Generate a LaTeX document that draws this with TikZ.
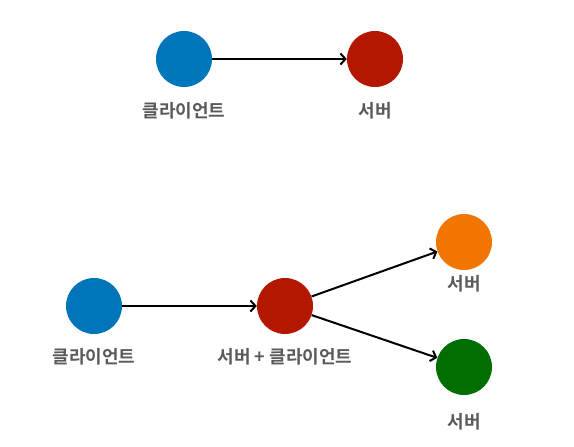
\documentclass[tikz,border=0pt]{standalone}
\usepackage{fontspec}
\usetikzlibrary{arrows.meta}
\newfontfamily\kr{Noto Sans CJK KR}[BoldFont={Noto Sans CJK KR Bold}]
\definecolor{cblue}{RGB}{0,117,186}
\definecolor{cred}{RGB}{180,23,0}
\definecolor{corange}{RGB}{240,118,0}
\definecolor{cgreen}{RGB}{0,110,0}
\definecolor{ctext}{RGB}{90,90,90}
\tikzset{
  dot/.style={circle, minimum size=56pt, inner sep=0pt},
  lbl/.style={font=\kr\bfseries\fontsize{18}{20}\selectfont, text=ctext},
  conn/.style={->, >={Straight Barb[length=5pt,width=11pt]}, line width=2pt}
}
\begin{document}
\begin{tikzpicture}[x=1pt, y=-1pt]
        \useasboundingbox (0,0) rectangle (574,447);
        % Client -> Server
        \node[dot, fill=cblue] (c1) at (184, 59) {};
        \node[dot, fill=cred] (s1) at (375, 59) {};
        \node[lbl] (c1l) at (184, 111) {클라이언트};
        \node[lbl] (s1l) at (375, 111) {서버};
        \draw[conn] (c1) -- (s1);
        
        % Client -> Server + Client -> Servers
        \node[dot, fill=cblue] (c2) at (94, 306) {};
        \node[dot, fill=cred] (sc) at (285, 306) {};
        \node[dot, fill=corange] (s2) at (464, 242) {};
        \node[dot, fill=cgreen] (s3) at (464, 367) {};
        \node[lbl] (c2l) at (94, 357) {클라이언트};
        \node[lbl] (scl) at (285, 357) {서버 + 클라이언트};
        \node[lbl] (s2l) at (464, 284) {서버};
        \node[lbl] (s3l) at (464, 422) {서버};
        \draw[conn] (c2) -- (sc);
        \draw[conn] (sc) -- (s2);
        \draw[conn] (sc) -- (s3);
    \end{tikzpicture}
\end{document}
